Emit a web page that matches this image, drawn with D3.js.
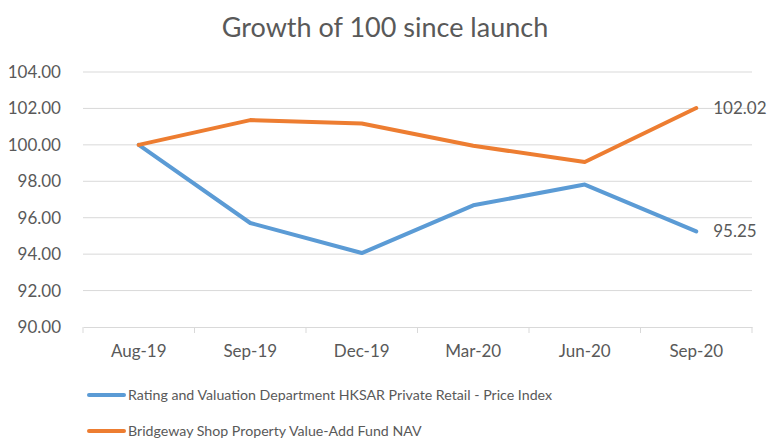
<!DOCTYPE html>
<html>
<head>
<meta charset="utf-8">
<script src="https://cdn.jsdelivr.net/npm/d3@7"></script>
<style>
  body { margin: 0; background: #fff; }
  svg text { font-family: Lato, "Open Sans", sans-serif; fill: #595959; }
</style>
</head>
<body>
<svg id="chart" width="770" height="438"></svg>
<script>
// data
const categories = ["Aug-19", "Sep-19", "Dec-19", "Mar-20", "Jun-20", "Sep-20"];
const priceIndex = [100, 95.71, 94.06, 96.68, 97.82, 95.25];
const fundNav = [100, 101.36, 101.17, 99.95, 99.06, 102.02];
const seriesNames = [
  "Rating and Valuation Department HKSAR Private Retail - Price Index",
  "Bridgeway Shop Property Value-Add Fund NAV"
];
const yTicks = [90, 92, 94, 96, 98, 100, 102, 104];

const colors = ["#5B9BD5", "#ED7D31"];
const svg = d3.select("#chart");

const plotLeft = 83, plotRight = 752, plotTop = 72, plotBottom = 327;

const x = d3.scaleBand().domain(categories).range([plotLeft, plotRight]);
const y = d3.scaleLinear().domain([90, 104]).range([plotBottom, plotTop]);

// title
svg.append("text")
  .attr("x", 385).attr("y", 37)
  .attr("text-anchor", "middle")
  .style("font-size", "27px")
  .text("Growth of 100 since launch");

// gridlines
svg.append("g").selectAll("line")
  .data(yTicks.filter(d => d > 90))
  .enter().append("line")
  .attr("x1", plotLeft).attr("x2", plotRight)
  .attr("y1", d => y(d)).attr("y2", d => y(d))
  .attr("stroke", "#D9D9D9").attr("stroke-width", 1);

// y axis labels
const yAxis = svg.append("g")
  .attr("transform", "translate(" + (plotLeft - 19) + ",0)")
  .call(d3.axisLeft(y).tickValues(yTicks).tickFormat(d3.format(".2f")).tickSize(0));
yAxis.select(".domain").remove();
yAxis.selectAll("text").style("font-size", "17px").attr("fill", "#595959");

// x axis
const xAxis = svg.append("g")
  .attr("transform", "translate(0," + plotBottom + ")")
  .call(d3.axisBottom(x).tickSize(0).tickPadding(18));
xAxis.select(".domain").attr("stroke", "#D9D9D9");
xAxis.selectAll("text").style("font-size", "17px").attr("fill", "#595959");

// category separators
const bounds = categories.map(c => x(c)).concat([plotRight]);
svg.append("g").selectAll("line")
  .data(bounds)
  .enter().append("line")
  .attr("x1", d => d).attr("x2", d => d)
  .attr("y1", plotBottom).attr("y2", plotBottom + 6)
  .attr("stroke", "#D9D9D9");

// lines
const line = d3.line()
  .x((d, i) => x(categories[i]) + x.bandwidth() / 2)
  .y(d => y(d));

[priceIndex, fundNav].forEach(function(vals, k){
  svg.append("path")
    .datum(vals)
    .attr("d", line)
    .attr("fill", "none")
    .attr("stroke", colors[k])
    .attr("stroke-width", 4)
    .attr("stroke-linecap", "round")
    .attr("stroke-linejoin", "round");

  // end label
  const last = vals.length - 1;
  svg.append("text")
    .attr("x", x(categories[last]) + x.bandwidth() / 2 + 17)
    .attr("y", y(vals[last]))
    .attr("dy", "0.35em")
    .style("font-size", "17px")
    .text(d3.format(".2f")(vals[last]));
});

// legend
seriesNames.forEach(function(name, k){
  const ly = 395 + k * 36;
  svg.append("line")
    .attr("x1", 89).attr("x2", 124)
    .attr("y1", ly).attr("y2", ly)
    .attr("stroke", colors[k]).attr("stroke-width", 4)
    .attr("stroke-linecap", "round");
  svg.append("text")
    .attr("x", 128).attr("y", ly)
    .attr("dy", "0.35em")
    .style("font-size", "14.2px")
    .text(name);
});
</script>
</body>
</html>
